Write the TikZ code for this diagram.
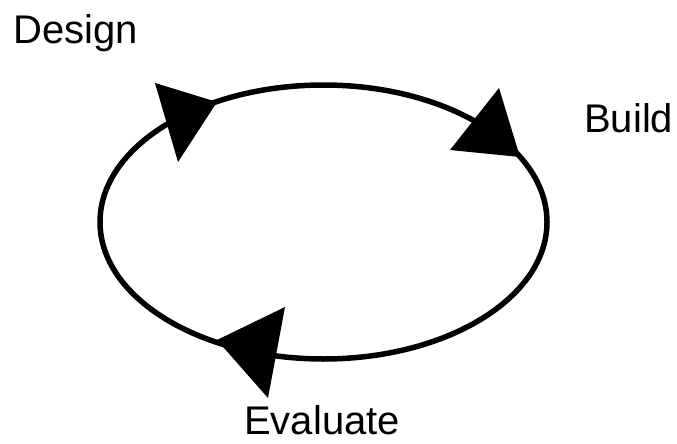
\documentclass[tikz,border=0pt]{standalone}
\usepackage{fontspec}
\setmainfont{Liberation Sans}
\usepackage{tikz}

\tikzset{
  phase/.style={inner sep=0pt, anchor=base west, font=\fontsize{40}{48}\selectfont},
  cyclehead/.style={fill=black, draw=none}
}

\begin{document}
\begin{tikzpicture}[x=1pt, y=-1pt]
  \useasboundingbox (0,0) rectangle (677,444);
  \coordinate (c) at (323.5,222);
  \draw[line width=5.5pt] (c) ellipse [x radius=223.5pt, y radius=137pt];
  \fill[cyclehead] (155,83) -- (217,102) -- (178,162) -- cycle;
  \fill[cyclehead] (499,88) -- (520,157) -- (450,150) -- cycle;
  \fill[cyclehead] (285,307) -- (217,340) -- (268,398) -- cycle;
  \node[phase] (design) at (13,44) {Design};
  \node[phase] (build) at (584,132) {Build};
  \node[phase] (evaluate) at (244,434) {Evaluate};
\end{tikzpicture}
\end{document}
